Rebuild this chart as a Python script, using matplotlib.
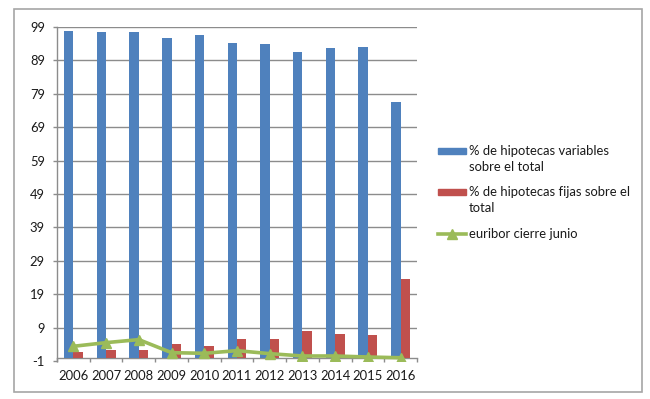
import matplotlib
matplotlib.use("Agg")
import matplotlib.pyplot as plt
from matplotlib.patches import Rectangle
from matplotlib.lines import Line2D
import numpy as np

years = ["2006", "2007", "2008", "2009", "2010", "2011", "2012", "2013", "2014", "2015", "2016"]
variables = [97.8, 97.4, 97.6, 95.6, 96.5, 94.2, 94.0, 91.6, 92.6, 93.0, 76.5]
fijas = [1.8, 2.4, 2.2, 4.0, 3.5, 5.5, 5.7, 8.1, 7.1, 6.9, 23.5]
euribor = [3.4, 4.5, 5.4, 1.5, 1.3, 2.1, 1.2, 0.5, 0.5, 0.2, -0.03]
yticks = [-1, 9, 19, 29, 39, 49, 59, 69, 79, 89, 99]
legend_labels = ["% de hipotecas variables\nsobre el total",
                 "% de hipotecas fijas sobre el\ntotal",
                 "euribor cierre junio"]

BLUE = "#4F81BD"
RED = "#C0504D"
GREEN = "#9BBB59"
GRID = "#8C8C8C"
TXT = "#1a1a1a"
FS = 9.4

plt.rcParams['font.family'] = ['Lato', 'DejaVu Sans']

W, H = 650, 399
fig = plt.figure(figsize=(W / 100, H / 100), dpi=100)

def fx(px):
    return px / W

def fy(py):
    return 1 - py / H

x0, x1, ytop, ybot = 57, 417, 27, 361
ax = fig.add_axes([fx(x0), fy(ybot), fx(x1) - fx(x0), fy(ytop) - fy(ybot)])

x = np.arange(len(years))
bw = 0.29
ax.bar(x - bw / 2, variables, bw, color=BLUE, zorder=3)
ax.bar(x + bw / 2, fijas, bw, color=RED, zorder=3)
ax.plot(x, euribor, color=GREEN, lw=2.6, marker="^", markersize=7,
        markerfacecolor=GREEN, markeredgecolor=GREEN, zorder=4)

ax.set_xlim(-0.5, len(years) - 0.5)
ax.set_ylim(-1, 99)
ax.set_yticks(yticks)
ax.set_yticklabels([str(v) for v in yticks])
for v in yticks[1:]:
    ax.axhline(v, color=GRID, lw=1.0, zorder=1)

for s in ["top", "right"]:
    ax.spines[s].set_visible(False)
ax.spines["left"].set_color(GRID)
ax.spines["bottom"].set_color(GRID)
ax.spines["bottom"].set_position(("data", 0))
ax.spines["left"].set_linewidth(1.0)
ax.spines["bottom"].set_linewidth(1.0)

ax.set_xticks(np.arange(len(years) + 1) - 0.5)
ax.set_xticklabels([])
ax.set_xticks(x, minor=True)
ax.set_xticklabels(years, minor=True)
ax.tick_params(axis="x", which="major", direction="out", length=3.2, color=GRID, width=1.0)
ax.tick_params(axis="x", which="minor", length=0, pad=9.0, labelsize=FS, labelcolor=TXT)
ax.tick_params(axis="y", direction="out", length=3.2, color=GRID, width=1.0, pad=5.5,
               labelsize=FS, labelcolor=TXT)

# chart border
fig.patches.append(Rectangle((fx(14), fy(392)), fx(642) - fx(14), fy(9) - fy(392),
                             transform=fig.transFigure, fill=False,
                             edgecolor="#A6A6A6", lw=1.2))

# legend
lx0, lx1, tx = 438, 466, 469
fig.patches.append(Rectangle((fx(lx0), fy(154)), fx(lx1) - fx(lx0), fy(148) - fy(154),
                             transform=fig.transFigure, color=BLUE))
fig.patches.append(Rectangle((fx(lx0), fy(195)), fx(lx1) - fx(lx0), fy(189) - fy(195),
                             transform=fig.transFigure, color=RED))
fig.lines.append(Line2D([fx(lx0), fx(lx1)], [fy(234), fy(234)], transform=fig.transFigure,
                        color=GREEN, lw=2.6))
fig.lines.append(Line2D([fx((lx0 + lx1) / 2)], [fy(234)], transform=fig.transFigure,
                        color=GREEN, marker="^", markersize=7))
fig.text(fx(tx), fy(145), legend_labels[0], ha="left", va="top", fontsize=FS,
         color=TXT, linespacing=1.38)
fig.text(fx(tx), fy(186), legend_labels[1], ha="left", va="top", fontsize=FS,
         color=TXT, linespacing=1.38)
fig.text(fx(tx), fy(234), legend_labels[2], ha="left", va="center", fontsize=FS,
         color=TXT)

fig.savefig("out.png", dpi=100)
